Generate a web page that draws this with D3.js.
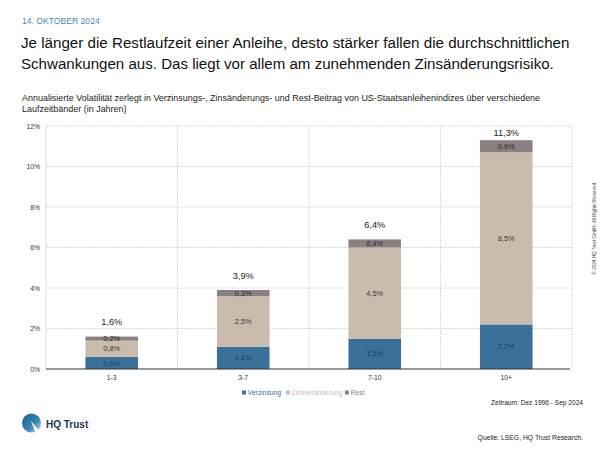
<!DOCTYPE html>
<html><head><meta charset="utf-8">
<script src="https://cdn.jsdelivr.net/npm/d3@7"></script>
<style>body{margin:0;background:#fff;font-family:"Liberation Sans",Arial,Helvetica,sans-serif;}</style>
</head><body><svg id="c" width="600" height="450"></svg>
<script>
const categories = ["1-3", "3-7", "7-10", "10+"];
const seriesNames = ["Verzinsung", "Zinsveränderung", "Rest"];
const verzinsung = [0.6, 1.1, 1.5, 2.2];
const zinsveraenderung = [0.8, 2.5, 4.5, 8.5];
const rest = [0.2, 0.3, 0.4, 0.6];
const totals = [1.6, 3.9, 6.4, 11.3];
const yTicks = [0, 2, 4, 6, 8, 10, 12];
const colors = ["#3b7099", "#c9bcad", "#8a807f"];
const labelColors = ["#1f3f5c", "#3a3a3a", "#2a2a2a"];

const fmt = v => v.toFixed(1).replace(".", ",") + "%";
const svg = d3.select("#c");
const F = '"Liberation Sans",Arial,sans-serif';

function fitText(sel, targetW) {
  const n = sel.node();
  const w = n.getComputedTextLength();
  const fs = parseFloat(sel.attr("font-size"));
  sel.attr("font-size", fs * targetW / w);
  return sel;
}

// Header
svg.append("text").attr("x",22).attr("y",24).attr("font-size",8.6).attr("fill","#4f86ad").attr("font-family",F).text("14. OKTOBER 2024");
fitText(svg.append("text").attr("x",21).attr("y",48).attr("font-size",17).attr("fill","#111").attr("font-family",F).text("Je länger die Restlaufzeit einer Anleihe, desto stärker fallen die durchschnittlichen"), 549);
fitText(svg.append("text").attr("x",21).attr("y",69).attr("font-size",17).attr("fill","#111").attr("font-family",F).text("Schwankungen aus. Das liegt vor allem am zunehmenden Zinsänderungsrisiko."), 533);
const sub1 = fitText(svg.append("text").attr("x",22).attr("y",101).attr("font-size",7.9).attr("fill","#222").attr("font-family",F).text("Annualisierte Volatilität zerlegt in Verzinsungs-, Zinsänderungs- und Rest-Beitrag von US-Staatsanleihenindizes über verschiedene"), 518);
svg.append("text").attr("x",22).attr("y",112).attr("fill","#222").attr("font-family",F).attr("font-size", sub1.attr("font-size")).text("Laufzeitbänder (in Jahren)");

// Plot
const x0 = 46, x1 = 572, yTop = 126, yBot = 369;
const x = d3.scaleBand().domain(categories).range([x0, x1]).paddingInner(0).paddingOuter(0);
const y = d3.scaleLinear().domain([0, 12]).range([yBot, yTop]);
const bw = x.bandwidth() * 0.4;

const g = svg.append("g");
g.selectAll("line.h").data(yTicks.filter(t => t > 0)).join("line")
  .attr("x1", x0).attr("x2", x1).attr("y1", d => y(d)).attr("y2", d => y(d))
  .attr("stroke", "#c8c8c8").attr("stroke-width", 0.7).attr("stroke-dasharray", "2,1");
const vlines = categories.slice(1).map(c => x(c)).concat([x1]);
g.selectAll("line.v").data(vlines).join("line")
  .attr("x1", d => d).attr("x2", d => d).attr("y1", yTop).attr("y2", yBot)
  .attr("stroke", "#c8c8c8").attr("stroke-width", 0.7).attr("stroke-dasharray", "2,1");
g.append("line").attr("x1", x0).attr("x2", x0).attr("y1", yTop).attr("y2", yBot).attr("stroke", "#d0d0d0").attr("stroke-width", 0.7);

g.selectAll("text.yt").data(yTicks).join("text")
  .attr("x", 40).attr("y", d => y(d) + 2.5).attr("text-anchor", "end")
  .attr("font-size", 6.8).attr("fill", "#333").attr("font-family", F).text(d => d + "%");

const rows = categories.map((c, i) => ({cat: c, Verzinsung: verzinsung[i], "Zinsveränderung": zinsveraenderung[i], Rest: rest[i]}));
const stack = d3.stack().keys(seriesNames)(rows);
stack.forEach((layer, li) => {
  g.selectAll("rect.s" + li).data(layer).join("rect")
    .attr("x", d => x(d.data.cat) + (x.bandwidth() - bw) / 2)
    .attr("width", bw)
    .attr("y", d => y(d[1]))
    .attr("height", d => y(d[0]) - y(d[1]))
    .attr("fill", colors[li]);
  g.selectAll("text.s" + li).data(layer).join("text")
    .attr("x", d => x(d.data.cat) + x.bandwidth() / 2)
    .attr("y", d => (y(d[0]) + y(d[1])) / 2 + 2.6)
    .attr("text-anchor", "middle").attr("font-size", 7.4)
    .attr("fill", labelColors[li]).attr("font-family", F)
    .text(d => fmt(d[1] - d[0]));
});
g.selectAll("text.tot").data(categories).join("text")
  .attr("x", d => x(d) + x.bandwidth() / 2)
  .attr("y", (d, i) => y(Math.min(totals[i] + 0.55, 11.5)))
  .attr("text-anchor", "middle").attr("font-size", 9.2).attr("fill", "#222").attr("font-family", F)
  .text((d, i) => fmt(totals[i]));

g.append("line").attr("x1", x0).attr("x2", x1 - 2).attr("y1", yBot).attr("y2", yBot).attr("stroke", "#333").attr("stroke-width", 1.2);
g.selectAll("text.xl").data(categories).join("text")
  .attr("x", d => x(d) + x.bandwidth() / 2).attr("y", 380)
  .attr("text-anchor", "middle").attr("font-size", 6.8).attr("fill", "#333").attr("font-family", F).text(d => d);

const legX = [242, 286, 345];
seriesNames.forEach((s, i) => {
  svg.append("rect").attr("x", legX[i]).attr("y", 390.5).attr("width", 4).attr("height", 4).attr("fill", colors[i]);
  svg.append("text").attr("x", legX[i] + 5.5).attr("y", 395).attr("font-size", 6.8).attr("fill", i === 0 ? "#3b7099" : colors[i]).attr("font-family", F).text(s);
});

svg.append("text").attr("x", 583).attr("y", 405).attr("text-anchor", "end").attr("font-size", 6.6).attr("fill", "#222").attr("font-family", F).text("Zeitraum: Dez 1996 - Sep 2024");
svg.append("text").attr("x", 583).attr("y", 440).attr("text-anchor", "end").attr("font-size", 6.8).attr("fill", "#222").attr("font-family", F).text("Quelle: LSEG, HQ Trust Research.");
svg.append("text").attr("transform", "translate(596,228) rotate(-90)").attr("text-anchor", "middle").attr("font-size", 4.6).attr("fill", "#444").attr("font-family", F).text("© 2024 HQ Trust GmbH. All Rights Reserved.");

const defs = svg.append("defs");
const lg = defs.append("linearGradient").attr("id", "lg").attr("x1", "0").attr("y1", "0").attr("x2", "1").attr("y2", "1");
lg.append("stop").attr("offset", "0").attr("stop-color", "#1d5a86");
lg.append("stop").attr("offset", "0.6").attr("stop-color", "#3d86b5");
lg.append("stop").attr("offset", "1").attr("stop-color", "#d5e6f1");
svg.append("circle").attr("cx", 31.5).attr("cy", 423).attr("r", 9.5).attr("fill", "url(#lg)");
svg.append("path").attr("d", "M31 421 L42 434 L36 434 Z").attr("fill", "#fff");
svg.append("text").attr("x", 46).attr("y", 428).attr("font-size", 10).attr("font-weight", "bold").attr("fill", "#1c3550").attr("font-family", F).text("HQ Trust");
</script></body></html>
